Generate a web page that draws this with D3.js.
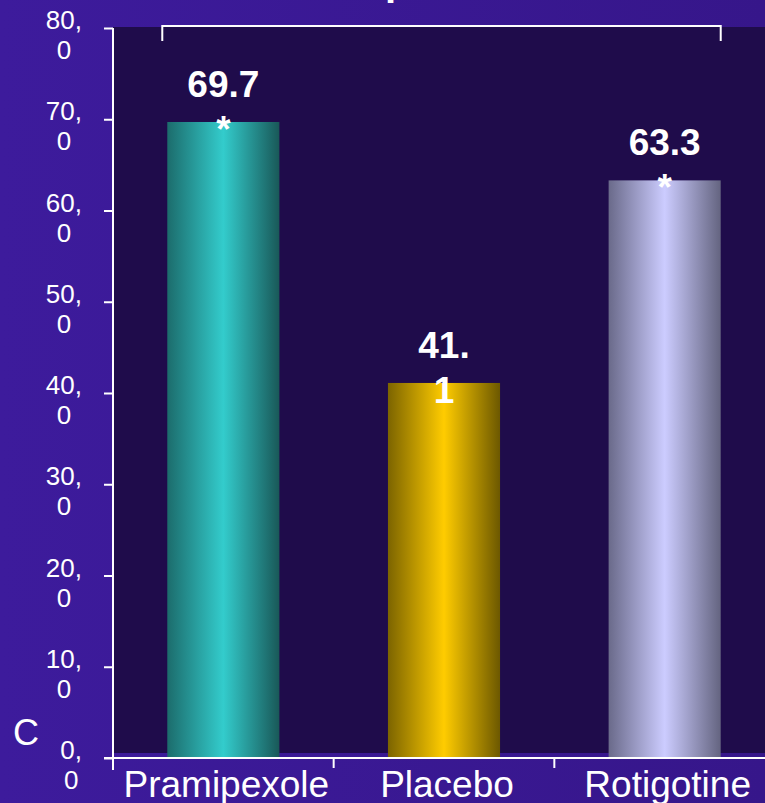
<!DOCTYPE html>
<html><head><meta charset="utf-8">
<script src="https://cdn.jsdelivr.net/npm/d3@7"></script>
<style>
html,body{margin:0;padding:0;background:#37178c;overflow:hidden;}
svg{display:block;font-family:"Liberation Sans",Arial,sans-serif;}
</style></head>
<body>
<svg id="c" width="765" height="803"></svg>
<script>
const categories = ["Pramipexole", "Placebo", "Rotigotine"];
const values = [69.7, 41.1, 63.3];
const valueLabelLines = [["69.7", "*"], ["41.", "1"], ["63.3", "*"]];
const yTicks = [0, 10, 20, 30, 40, 50, 60, 70, 80];
const yTickLines = [["0,", "0"], ["10,", "0"], ["20,", "0"], ["30,", "0"], ["40,", "0"], ["50,", "0"], ["60,", "0"], ["70,", "0"], ["80,", "0"]];
const yTitle = "C";
const barColors = [
  ["#1c6c6c", "#33cccc", "#195858"],
  ["#7c6400", "#ffcc00", "#6c5800"],
  ["#6a6a8a", "#ccccff", "#646480"]
];

(function () {
const svg = d3.select("#c");
const W = 765, H = 803;
const defs = svg.append("defs");

const bg = defs.append("linearGradient").attr("id", "bg").attr("x1", 0).attr("x2", 1).attr("y1", 0).attr("y2", 0);
bg.append("stop").attr("offset", 0).attr("stop-color", "#3d1b9c");
bg.append("stop").attr("offset", 1).attr("stop-color", "#36168a");
svg.append("rect").attr("width", W).attr("height", H).attr("fill", "url(#bg)");

barColors.forEach((c, i) => {
  const g = defs.append("linearGradient").attr("id", "bar" + i).attr("x1", 0).attr("x2", 1).attr("y1", 0).attr("y2", 0);
  g.append("stop").attr("offset", 0).attr("stop-color", c[0]);
  g.append("stop").attr("offset", 0.5).attr("stop-color", c[1]);
  g.append("stop").attr("offset", 1).attr("stop-color", c[2]);
});

const pL = 113, pR = 775, pT = 28, pB = 758;
const y = d3.scaleLinear().domain([0, 80]).range([pB, pT]);
const x = d3.scaleBand().domain(categories).range([pL, pR]).padding(0);
const barFrac = 0.508;
const bw = x.bandwidth() * barFrac;
const bx = c => x(c) + (x.bandwidth() - bw) / 2;

// plot area
svg.append("rect").attr("x", pL).attr("y", pT - 1).attr("width", W - pL).attr("height", (pB - 5) - (pT - 1)).attr("fill", "#1f0c4b");

// bars
svg.selectAll("rect.bar").data(categories).join("rect").attr("class", "bar")
  .attr("x", d => bx(d)).attr("width", bw)
  .attr("y", (d, i) => y(values[i])).attr("height", (d, i) => y(0) - y(values[i]))
  .attr("fill", (d, i) => `url(#bar${i})`);

// title fragment (clipped title)
svg.append("text").attr("x", 385).attr("y", -5).attr("fill", "#fff").attr("font-weight", "bold").attr("font-size", 40).text("p");

// bracket
const bl = bx(categories[0]) - 5, br = bx(categories[2]) + bw;
svg.append("path").attr("d", `M${bl},${pT + 13}V${pT - 2}H${br}V${pT + 13}`).attr("fill", "none").attr("stroke", "#fff").attr("stroke-width", 2);

// y axis
const ya = svg.append("g").attr("transform", `translate(${pL},0)`)
  .call(d3.axisLeft(y).tickValues(yTicks).tickSize(9).tickFormat(""));
ya.select(".domain").remove();
ya.selectAll(".tick line").attr("stroke", "#fff").attr("stroke-width", 2);
svg.append("line").attr("x1", pL).attr("x2", pL).attr("y1", pT).attr("y2", pB + 12).attr("stroke", "#fff").attr("stroke-width", 2);

// y tick labels (two lines, centred block right-aligned)
const rightEdge = 82;
yTicks.forEach((t, i) => {
  const g = svg.append("g");
  const l1 = g.append("text").attr("font-size", 26).attr("fill", "#fff").attr("y", y(t) + 1).text(yTickLines[i][0]);
  const w = l1.node().getComputedTextLength();
  const cx = rightEdge - w / 2;
  l1.attr("x", cx).attr("text-anchor", "middle");
  g.append("text").attr("font-size", 26).attr("fill", "#fff").attr("x", cx).attr("y", y(t) + 31).attr("text-anchor", "middle").text(yTickLines[i][1]);
});

// x axis
const xa = svg.append("g").attr("transform", `translate(0,${pB})`)
  .call(d3.axisBottom(x).tickSize(0).tickFormat(""));
xa.select(".domain").remove();
svg.append("line").attr("x1", pL - 9).attr("x2", W).attr("y1", pB).attr("y2", pB).attr("stroke", "#fff").attr("stroke-width", 2);
const bounds = categories.map(c => x(c)).concat([x(categories[2]) + x.bandwidth()]);
svg.selectAll("line.xt").data(bounds.slice(1)).join("line").attr("class", "xt")
  .attr("x1", d => d).attr("x2", d => d).attr("y1", pB).attr("y2", pB + 10)
  .attr("stroke", "#fff").attr("stroke-width", 2);

svg.selectAll("text.xl").data(categories).join("text").attr("class", "xl")
  .attr("x", d => bx(d) + bw / 2 + 3).attr("y", 797).attr("text-anchor", "middle")
  .attr("font-size", 37).attr("fill", "#fff").text(d => d);

// value labels
categories.forEach((c, i) => {
  const cx = bx(c) + bw / 2;
  valueLabelLines[i].forEach((s, j) => {
    svg.append("text").attr("x", cx).attr("y", y(values[i]) - 25 + j * 45)
      .attr("text-anchor", "middle").attr("font-weight", "bold").attr("font-size", 37)
      .attr("fill", "#fff").text(s);
  });
});

// y title
svg.append("text").attr("x", 13).attr("y", 745).attr("font-size", 36).attr("fill", "#fff").text(yTitle);
})();
</script>
</body></html>
